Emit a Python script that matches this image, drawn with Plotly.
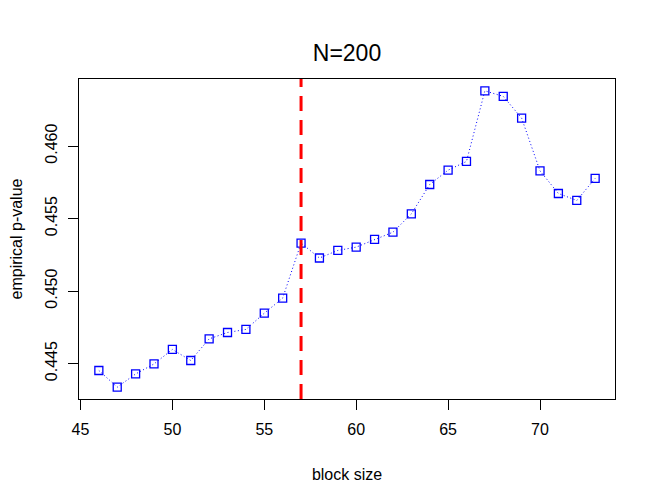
import plotly.graph_objects as go

block_size = [46, 47, 48, 49, 50, 51, 52, 53, 54, 55, 56, 57, 58, 59, 60,
              61, 62, 63, 64, 65, 66, 67, 68, 69, 70, 71, 72, 73]
p_value = [0.44452, 0.44337, 0.44428, 0.44497, 0.44597, 0.44521, 0.44670,
           0.44714, 0.44735, 0.44847, 0.44951, 0.45331, 0.45228, 0.45280,
           0.45303, 0.45356, 0.45406, 0.45532, 0.45735, 0.45834, 0.45894,
           0.46381, 0.46343, 0.46193, 0.45829, 0.45673, 0.45625, 0.45777]
chosen_block = 57
x_ticks = [45, 50, 55, 60, 65, 70]
y_ticks = [0.445, 0.450, 0.455, 0.460]
y_tick_text = ["0.445", "0.450", "0.455", "0.460"]
title_text = "N=200"
x_title = "block size"
y_title = "empirical p-value"

FONT = "Liberation Sans, Arial, Helvetica, sans-serif"
# page body has an 8px default margin; compensate so the plot box lands
# at the same screen position as the reference
OFF = 8


def ext(vals):
    lo, hi = min(vals), max(vals)
    d = (hi - lo) * 0.04
    return [lo - d, hi + d]


fig = go.Figure()
fig.add_trace(go.Scatter(
    x=block_size, y=p_value, mode="lines+markers",
    line=dict(color="#0000ff", width=1, dash="1px,2.5px"),
    marker=dict(symbol="square-open", size=8, color="#0000ff",
                line=dict(color="#0000ff", width=1.3)),
    showlegend=False, hoverinfo="skip"))

fig.add_shape(type="line", xref="x", yref="paper",
              x0=chosen_block, x1=chosen_block, y0=0, y1=1,
              line=dict(color="#ff0000", width=3, dash="15px,9px"))

axis_common = dict(showgrid=False, zeroline=False, showline=True,
                   linecolor="black", linewidth=1, mirror=True,
                   ticks="outside", ticklen=10, tickcolor="black",
                   tickwidth=1, automargin=False,
                   tickfont=dict(family=FONT, size=16, color="black"))

fig.update_layout(
    width=655, height=497,
    margin=dict(l=79 - OFF, r=40 + OFF, t=79 - OFF, b=98 + OFF),
    paper_bgcolor="white", plot_bgcolor="white",
    title=dict(text=title_text, x=0.5, xref="paper", xanchor="center",
               y=1 - (53 - OFF) / 497, yref="container", yanchor="middle",
               font=dict(family=FONT, size=23, color="black")),
    xaxis=dict(range=ext(block_size), tickmode="array", tickvals=x_ticks,
               ticklabelstandoff=6,
               title=dict(text=x_title, standoff=31,
                          font=dict(family=FONT, size=16, color="black")),
               **axis_common),
    yaxis=dict(range=ext(p_value), tickmode="array", tickvals=y_ticks,
               ticktext=y_tick_text, tickangle=-90, ticklabelstandoff=5,
               title=dict(text=y_title, standoff=16,
                          font=dict(family=FONT, size=16, color="black")),
               **axis_common),
)

fig.write_html("out.html")
